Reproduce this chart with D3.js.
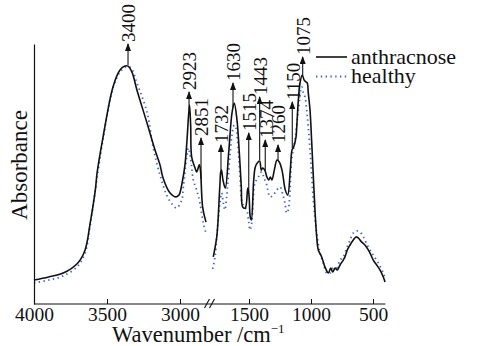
<!DOCTYPE html>
<html>
<head>
<meta charset="utf-8">
<script src="https://cdn.jsdelivr.net/npm/d3@7"></script>
<style>
  body { margin: 0; background: #fff; }
  svg { display: block; }
  text { font-family: "Liberation Serif", "Times New Roman", serif; fill: #111; }
</style>
</head>
<body>
<svg id="chart" width="477" height="346"></svg>
<script>
// wavenumbers (cm-1) and absorbance (a.u.)
// high-wavenumber part, before the axis break
const wnAnthHigh = [4000, 3900, 3800, 3700, 3650, 3615, 3580, 3568, 3527, 3459, 3411, 3377, 3356, 3329, 3295, 3226, 3171, 3137, 3116, 3068, 3027, 3007, 2986, 2966, 2952, 2935, 2927, 2920, 2897, 2886, 2868, 2860, 2845, 2822];
const anthHigh = [0.092, 0.104, 0.119, 0.158, 0.208, 0.312, 0.438, 0.504, 0.642, 0.835, 0.900, 0.915, 0.915, 0.892, 0.823, 0.696, 0.592, 0.535, 0.485, 0.427, 0.412, 0.419, 0.465, 0.535, 0.631, 0.765, 0.688, 0.565, 0.523, 0.508, 0.535, 0.515, 0.373, 0.315];
const wnHealthyHigh = [4000, 3900, 3800, 3700, 3650, 3616, 3582, 3527, 3459, 3411, 3370, 3336, 3295, 3226, 3183, 3137, 3091, 3055, 3023, 2988, 2977, 2954, 2943, 2932, 2920, 2909, 2886, 2863, 2841, 2818];
const healthyHigh = [0.081, 0.092, 0.108, 0.146, 0.196, 0.300, 0.431, 0.635, 0.831, 0.892, 0.912, 0.908, 0.850, 0.738, 0.600, 0.496, 0.419, 0.385, 0.369, 0.400, 0.450, 0.565, 0.600, 0.573, 0.527, 0.477, 0.438, 0.388, 0.312, 0.265];

// fingerprint part, after the break
const wnAnthLow = [1788, 1760, 1748, 1740, 1734, 1728, 1722, 1710, 1691, 1664, 1637, 1619, 1597, 1578, 1562, 1551, 1530, 1510, 1500, 1490, 1481, 1462, 1449, 1427, 1414, 1401, 1390, 1373, 1355, 1341, 1328, 1315, 1296, 1274, 1256, 1234, 1207, 1188, 1167, 1153, 1140, 1121, 1115, 1102, 1089, 1070, 1056, 1040, 1030, 1022, 1008, 994, 981, 968, 954, 941, 914, 887, 860, 841, 825, 806, 788, 766, 740, 726, 707, 685, 659, 637, 619, 591, 565, 538, 524, 498, 470, 444, 417, 403];
const anthLow = [0.181, 0.258, 0.335, 0.412, 0.465, 0.508, 0.515, 0.477, 0.446, 0.581, 0.735, 0.773, 0.708, 0.581, 0.450, 0.373, 0.369, 0.446, 0.419, 0.335, 0.323, 0.477, 0.527, 0.546, 0.550, 0.515, 0.523, 0.515, 0.488, 0.477, 0.488, 0.477, 0.515, 0.554, 0.546, 0.515, 0.438, 0.419, 0.515, 0.592, 0.604, 0.642, 0.681, 0.785, 0.850, 0.881, 0.862, 0.854, 0.850, 0.812, 0.746, 0.619, 0.488, 0.362, 0.258, 0.208, 0.181, 0.142, 0.119, 0.138, 0.123, 0.138, 0.131, 0.150, 0.169, 0.181, 0.208, 0.227, 0.246, 0.258, 0.254, 0.238, 0.227, 0.208, 0.196, 0.169, 0.150, 0.131, 0.104, 0.085];
const wnHealthyLow = [1793, 1774, 1760, 1748, 1734, 1720, 1707, 1694, 1680, 1667, 1653, 1637, 1619, 1605, 1593, 1573, 1559, 1540, 1519, 1502, 1492, 1478, 1465, 1452, 1425, 1398, 1379, 1357, 1331, 1304, 1277, 1250, 1226, 1210, 1196, 1183, 1169, 1156, 1129, 1102, 1075, 1062, 1048, 1035, 1022, 1002, 981, 954, 927, 901, 873, 847, 820, 793, 766, 740, 712, 685, 659, 631, 605, 578, 538, 498, 457, 417, 403];
const healthyLow = [0.135, 0.182, 0.259, 0.323, 0.388, 0.427, 0.388, 0.362, 0.413, 0.490, 0.573, 0.650, 0.688, 0.677, 0.631, 0.496, 0.400, 0.373, 0.362, 0.315, 0.285, 0.312, 0.412, 0.465, 0.488, 0.508, 0.485, 0.458, 0.412, 0.419, 0.438, 0.450, 0.419, 0.388, 0.350, 0.362, 0.438, 0.554, 0.631, 0.746, 0.835, 0.812, 0.796, 0.746, 0.681, 0.554, 0.400, 0.273, 0.196, 0.158, 0.119, 0.119, 0.138, 0.138, 0.169, 0.181, 0.215, 0.246, 0.273, 0.281, 0.277, 0.258, 0.219, 0.188, 0.158, 0.119, 0.100];

// peak labels: text, where the arrow stands, absorbance level of the arrow tip
const peakLabels = ["3400", "2923", "2851", "1732", "1630", "1515", "1443", "1374", "1260", "1150", "1075"];
const peakAt = [3356, 2938, 2856, 1726, 1629, 1502, 1414, 1369, 1266, 1151, 1067];
const peakTip = [1.0, 0.815, 0.638, 0.612, 0.85, 0.658, 0.796, 0.631, 0.612, 0.777, 0.95];

const ticksHigh = [4000, 3500, 3000];
const ticksLow = [1500, 1000, 500];

const seriesNames = ["anthracnose", "healthy"];
const blue = "#3f63cc";
const serif = "'Liberation Serif', 'Times New Roman', serif";

const svg = d3.select("#chart");

const y = d3.scaleLinear().domain([0, 1]).range([304, 44]);
const xHigh = d3.scaleLinear().domain([4000, 2800]).range([34, 209.2]);
const xLow = d3.scaleLinear().domain([1800, 400]).range([211.8, 385.4]);

function xOf(w) {
  return w > 2000 ? xHigh(w) : xLow(w);
}

// linear interpolation on a descending wavenumber list
function valueAt(wns, vals, w) {
  for (let i = 0; i < wns.length - 1; i++) {
    if (w <= wns[i] && w >= wns[i + 1]) {
      const t = (wns[i] - w) / (wns[i] - wns[i + 1]);
      return vals[i] + t * (vals[i + 1] - vals[i]);
    }
  }
  return vals[vals.length - 1];
}

function drawSegment(wns, vals, xs, dotted) {
  const pts = wns.map((w, i) => [w, vals[i]]);
  const line = d3.line()
    .x(d => xs(d[0]))
    .y(d => y(d[1]))
    .curve(d3.curveCatmullRom.alpha(0.5));
  svg.append("path")
    .datum(pts)
    .attr("fill", "none")
    .attr("stroke", dotted ? blue : "#111")
    .attr("stroke-width", dotted ? 1.8 : 1.6)
    .attr("stroke-dasharray", dotted ? "1.4,3.4" : null)
    .attr("stroke-linejoin", "round")
    .attr("d", line);
}

// healthy first so the solid line sits on top
drawSegment(wnHealthyHigh, healthyHigh, xHigh, true);
drawSegment(wnHealthyLow, healthyLow, xLow, true);
drawSegment(wnAnthHigh, anthHigh, xHigh, false);
drawSegment(wnAnthLow, anthLow, xLow, false);

// axes
svg.append("g")
  .attr("transform", "translate(34,0)")
  .call(d3.axisLeft(y).tickValues([]).tickSizeOuter(0))
  .select(".domain").attr("stroke", "#111").attr("stroke-width", 1.2);

svg.append("line")
  .attr("x1", xHigh(4000)).attr("x2", xLow(400))
  .attr("y1", y(0)).attr("y2", y(0))
  .attr("stroke", "#111").attr("stroke-width", 1.2);

[[xHigh, ticksHigh], [xLow, ticksLow]].forEach(([sc, tv]) => {
  const g = svg.append("g")
    .attr("transform", `translate(0,${y(0)})`)
    .call(d3.axisBottom(sc).tickValues(tv).tickFormat(d3.format("d"))
      .tickSizeInner(-5).tickSizeOuter(0).tickPadding(3));
  g.select(".domain").remove();
  g.attr("font-family", null).attr("font-size", null);
  g.selectAll(".tick line").attr("stroke", "#111");
  g.selectAll(".tick text")
    .style("font-family", serif)
    .style("font-size", "19.5px")
    .attr("fill", "#111");
});

// axis break marks
const xb = (xHigh(2818) + xLow(1795)) / 2;
[-2.5, 2.5].forEach(off => {
  svg.append("line")
    .attr("x1", xb + off - 2.5).attr("y1", y(0) + 4)
    .attr("x2", xb + off + 2.5).attr("y2", y(0) - 5)
    .attr("stroke", "#111").attr("stroke-width", 1.1);
});

// axis titles
svg.append("text")
  .attr("transform", "translate(27,165) rotate(-90)")
  .attr("text-anchor", "middle")
  .attr("font-size", 23)
  .text("Absorbance");

const xt = svg.append("text")
  .attr("x", 112).attr("y", 342)
  .attr("font-size", 22.5);
xt.append("tspan").text("Wavenumber /cm");
xt.append("tspan").attr("dy", -9).attr("font-size", 13).text("\u22121");

// peak arrows
const defs = svg.append("defs");
defs.append("marker")
  .attr("id", "arrowhead")
  .attr("viewBox", "0 0 8 6")
  .attr("refX", 7).attr("refY", 3)
  .attr("markerWidth", 8).attr("markerHeight", 6)
  .attr("markerUnits", "userSpaceOnUse")
  .attr("orient", "auto")
  .append("path")
  .attr("d", "M0,0L8,3L0,6Z")
  .attr("fill", "#111");

peakLabels.forEach((lab, i) => {
  const w = peakAt[i];
  const base = w > 2000 ? valueAt(wnAnthHigh, anthHigh, w) : valueAt(wnAnthLow, anthLow, w);
  const px = xOf(w);
  const tipY = y(peakTip[i]);
  svg.append("line")
    .attr("x1", px).attr("y1", y(base) - 1)
    .attr("x2", px).attr("y2", tipY)
    .attr("stroke", "#111").attr("stroke-width", 1.1)
    .attr("marker-end", "url(#arrowhead)");
  svg.append("text")
    .attr("transform", `translate(${px + 1},${tipY - 2}) rotate(-90)`)
    .attr("dy", "0.33em")
    .attr("font-size", 19)
    .text(lab);
});

// legend
const legend = svg.append("g").attr("transform", "translate(316,57)");
seriesNames.forEach((name, i) => {
  const row = legend.append("g").attr("transform", `translate(0,${i * 19.5})`);
  row.append("line")
    .attr("x1", 0).attr("x2", 31)
    .attr("stroke", i === 0 ? "#111" : blue)
    .attr("stroke-width", i === 0 ? 1.6 : 1.8)
    .attr("stroke-dasharray", i === 0 ? null : "1.4,3.4");
  row.append("text")
    .attr("x", 35).attr("y", 6.5)
    .attr("font-size", 22)
    .text(name);
});
</script>
</body>
</html>
